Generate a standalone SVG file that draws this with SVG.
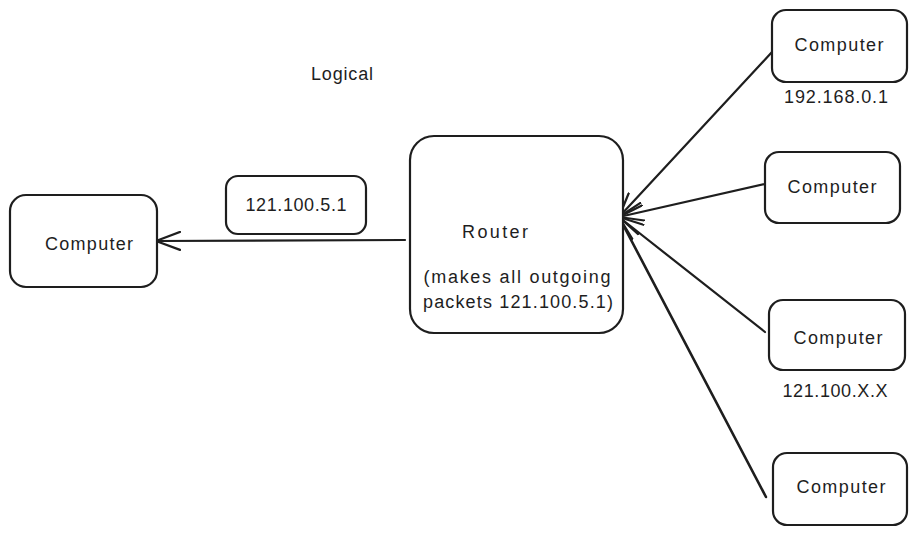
<svg xmlns="http://www.w3.org/2000/svg" width="918" height="534" viewBox="0 0 918 534">
<style>
.box{fill:#fff;stroke:#1e1e1e;stroke-width:2.2;stroke-linejoin:round}
.t{font-family:"Liberation Sans","DejaVu Sans",sans-serif;font-size:18px;fill:#1e1e1e;text-anchor:middle;dominant-baseline:central}
.c{fill:none;stroke:#1e1e1e;stroke-width:2.2;stroke-linecap:round}
</style>
<defs>
<marker id="ah" viewBox="0 0 26 20" refX="25" refY="10" markerWidth="26" markerHeight="20" markerUnits="userSpaceOnUse" orient="auto">
<path d="M1,1 L25,10 L1,19" fill="none" stroke="#1e1e1e" stroke-width="2.2" stroke-linecap="round" stroke-linejoin="round"/>
</marker>
</defs>
<rect width="918" height="534" fill="#fff"/>
<text class="t" x="342" y="74" textLength="62">Logical</text>
<g id="connectors">
<line class="c" x1="405" y1="240" x2="156" y2="241" marker-end="url(#ah)"/>
<line class="c" x1="772" y1="52" x2="619" y2="217" marker-end="url(#ah)"/>
<line class="c" x1="765" y1="184" x2="619" y2="217" marker-end="url(#ah)"/>
<line class="c" x1="765" y1="332" x2="619" y2="217" marker-end="url(#ah)"/>
<line class="c" x1="766" y1="497" x2="619" y2="217" marker-end="url(#ah)" style="stroke-width:2.6"/>
</g>
<g id="router">
<rect class="box" x="410" y="136" width="213" height="197" rx="24"/>
<text class="t" x="495" y="232" textLength="66">Router</text>
<text class="t" x="517" y="277" textLength="187">(makes all outgoing</text>
<text class="t" x="518" y="302" textLength="190">packets 121.100.5.1)</text>
</g>
<g id="pc-left">
<rect class="box" x="10" y="195" width="147" height="92" rx="16"/>
<text class="t" x="89" y="244" textLength="88">Computer</text>
</g>
<g id="ip-label">
<rect class="box" x="226" y="176" width="140" height="58" rx="12"/>
<text class="t" x="296" y="205" textLength="101">121.100.5.1</text>
</g>
<g id="pc1">
<rect class="box" x="772" y="10" width="135" height="72" rx="14"/>
<text class="t" x="839" y="45" textLength="89">Computer</text>
<text class="t" x="836" y="97" textLength="104">192.168.0.1</text>
</g>
<g id="pc2">
<rect class="box" x="765" y="152" width="135" height="71" rx="14"/>
<text class="t" x="832" y="187" textLength="89">Computer</text>
</g>
<g id="pc3">
<rect class="box" x="769" y="300" width="136" height="70" rx="14"/>
<text class="t" x="838" y="338" textLength="89">Computer</text>
<text class="t" x="835" y="391" textLength="105">121.100.X.X</text>
</g>
<g id="pc4">
<rect class="box" x="773" y="453" width="134" height="72" rx="14"/>
<text class="t" x="841" y="487" textLength="89">Computer</text>
</g>
</svg>
